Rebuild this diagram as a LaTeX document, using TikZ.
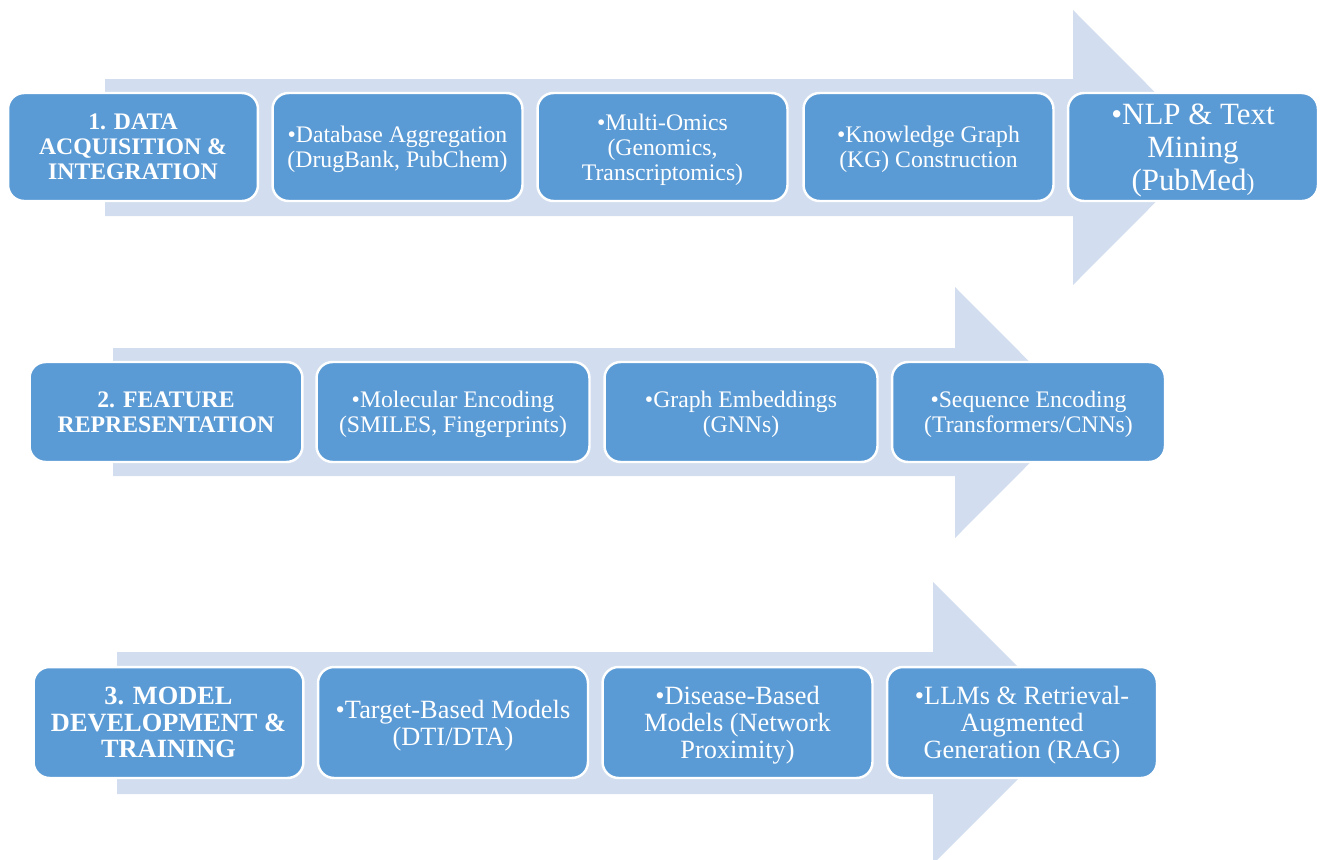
\documentclass[tikz,border=0pt]{standalone}
\usepackage{fontspec}
\setmainfont{Liberation Serif}
\definecolor{boxblue}{HTML}{5B9BD5}
\definecolor{arrowblue}{HTML}{D2DEEF}
\tikzset{
  stage/.style={draw=white, line width=1.4pt, fill=boxblue, rounded corners=0.32cm,
    text=white, align=center, inner sep=0pt, text depth=0pt,
    font=\fontsize{13.5}{14.3}\selectfont},
  head/.style={stage, font=\fontsize{13.5}{14.3}\selectfont\bfseries},
  rowone/.style={minimum width=5cm, minimum height=2.16cm},
  rowtwo/.style={minimum width=5.46cm, minimum height=2cm},
  rowthree/.style={minimum width=5.4cm, minimum height=2.22cm,
    font=\fontsize{15}{15.4}\selectfont},
  flow/.style={fill=arrowblue, draw=none}
}
\begin{document}
\begin{tikzpicture}[x=0.02cm, y=-0.02cm]
    \clip (0,0) rectangle (1324,859);
    \useasboundingbox (0,0) rectangle (1324,859);

    \fill[flow] (105,79) -- (1073,79) -- (1073,10) -- (1210,147.5) -- (1073,285) -- (1073,216) -- (105,216) -- cycle;
    \fill[flow] (113,348) -- (955,348) -- (955,287) -- (1080,412.5) -- (955,538) -- (955,476) -- (113,476) -- cycle;
    \fill[flow] (117,652) -- (933,652) -- (933,582) -- (1074,723) -- (933,864) -- (933,794) -- (117,794) -- cycle;

    \node[head, rowone] (acq) at (133,147) {1. DATA\\ACQUISITION \&\\INTEGRATION};
    \node[stage, rowone] (dbagg) at (397.5,147) {•Database Aggregation\\(DrugBank, PubChem)};
    \node[stage, rowone] (omics) at (662.5,147) {•Multi-Omics\\(Genomics,\\Transcriptomics)};
    \node[stage, rowone] (kg) at (928.5,147) {•Knowledge Graph\\(KG) Construction};
    \node[stage, rowone, font=\fontsize{17.6}{18.7}\selectfont] (nlp) at (1193,147) {•NLP \& Text\\Mining\\(PubMed{\fontsize{13.5}{14}\selectfont )}};

    \node[head, rowtwo] (feat) at (166,412) {2. FEATURE\\REPRESENTATION};
    \node[stage, rowtwo] (mol) at (453,412) {•Molecular Encoding\\(SMILES, Fingerprints)};
    \node[stage, rowtwo] (gemb) at (741,412) {•Graph Embeddings\\(GNNs)};
    \node[stage, rowtwo] (seq) at (1028.5,412) {•Sequence Encoding\\(Transformers/CNNs)};

    \node[head, rowthree, font=\fontsize{15}{15}\selectfont\bfseries] (model) at (168.5,722.5) {3. MODEL\\DEVELOPMENT \&\\TRAINING};
    \node[stage, rowthree] (target) at (453,722.5) {•Target-Based Models\\(DTI/DTA)};
    \node[stage, rowthree] (disease) at (737.5,722.5) {•Disease-Based\\Models (Network\\Proximity)};
    \node[stage, rowthree] (llm) at (1022,722.5) {•LLMs \& Retrieval-\\Augmented\\Generation (RAG)};
\end{tikzpicture}
\end{document}
